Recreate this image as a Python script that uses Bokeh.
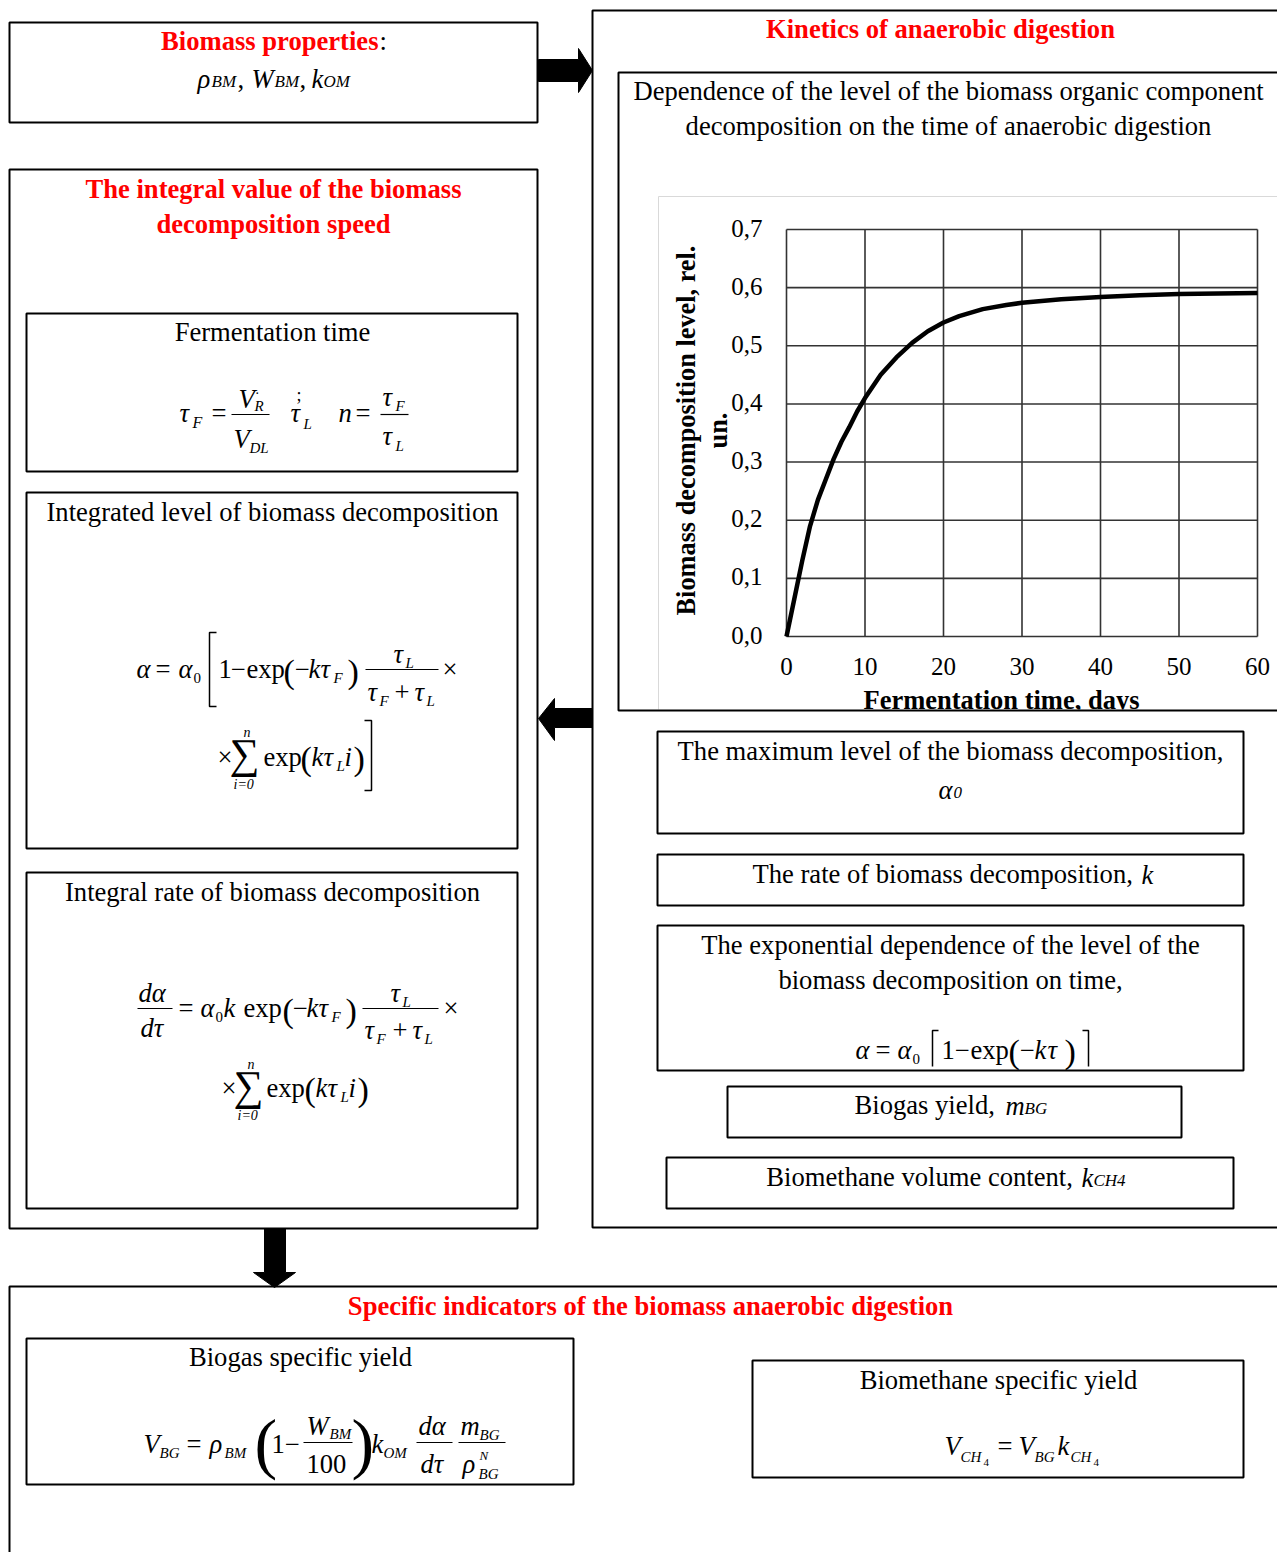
import math
from bokeh.plotting import figure
from bokeh.models import Range1d
from bokeh.core.properties import value
from bokeh.embed import file_html
from bokeh.resources import INLINE

# ---------------- data of the kinetics chart ----------------
days = [0, 1, 2, 3, 4, 5, 6, 7, 8, 9, 10, 12, 14, 16, 18, 20, 22, 25, 28, 30, 35, 40, 45, 50, 55, 60]
level = [0.0, 0.065, 0.13, 0.19, 0.235, 0.27, 0.305, 0.335, 0.36, 0.387, 0.41, 0.45, 0.48, 0.505,
         0.525, 0.54, 0.551, 0.563, 0.57, 0.574, 0.58, 0.584, 0.587, 0.589, 0.59, 0.591]
x_ticks = [0, 10, 20, 30, 40, 50, 60]
x_tick_labels = ["0", "10", "20", "30", "40", "50", "60"]
y_ticks = [0.0, 0.1, 0.2, 0.3, 0.4, 0.5, 0.6, 0.7]
y_tick_labels = ["0,0", "0,1", "0,2", "0,3", "0,4", "0,5", "0,6", "0,7"]
x_title = "Fermentation time, days"
y_title_lines = ["Biomass decomposition level, rel.", "un."]

# ---------------- canvas ----------------
W, H = 1277, 1552
FONT = "Liberation Serif"
FS = 26.6
p = figure(width=W, height=H, x_range=Range1d(0, W), y_range=Range1d(H, 0),
           output_backend="svg", toolbar_location=None, x_axis_type=None, y_axis_type=None,
           min_border=0, outline_line_color=None)
p.xgrid.visible = False
p.ygrid.visible = False

# chart plot area placement (page px)
PX0, PX1 = 786, 1257
PY0, PY1 = 636, 229
ex = (x_ticks[-1] - x_ticks[0]) * W / (PX1 - PX0)
sx = x_ticks[0] - PX0 * ex / W
ey = (y_ticks[-1] - y_ticks[0]) * H / (PY0 - PY1)
sy = y_ticks[0] - (H - PY0) * ey / H
p.extra_x_ranges = {"chart": Range1d(sx, sx + ex)}
p.extra_y_ranges = {"chart": Range1d(sy, sy + ey)}


def txt(x, y, s, size=FS, style="normal", color="black", align="center", baseline="middle", angle=0.0):
    if baseline == "middle" and angle == 0.0:
        y = y - 1.5
    p.text(x=[x], y=[y], text=[s], text_font=value(FONT), text_font_size=f"{size}px",
           text_font_style=style, text_color=color, text_align=align, text_baseline=baseline,
           angle=angle)


def m(x, y, s, size=FS, it=True):
    # y is the typographic baseline
    txt(x, y - 0.28 * size, s, size, "italic" if it else "normal", align="left", baseline="alphabetic")


def mc(x, y, s, size, it=False):
    # y is the vertical centre
    txt(x, y, s, size, "italic" if it else "normal", align="left", baseline="middle")


def ln(xs, ys, w=1.5):
    p.line(xs, ys, line_color="black", line_width=w)


def box(l, r, t, b, w=2):
    p.quad(left=l, right=r, top=t, bottom=b, fill_color=None, line_color="black", line_width=w)


# ---------------- chart ----------------
p.quad(left=658, right=1300, top=196, bottom=710, fill_color=None, line_color="#d9d9d9", line_width=1)
p.segment(x0=x_ticks, y0=[y_ticks[0]] * len(x_ticks), x1=x_ticks, y1=[y_ticks[-1]] * len(x_ticks),
          line_color="#333333", line_width=1.6, x_range_name="chart", y_range_name="chart")
p.segment(x0=[x_ticks[0]] * len(y_ticks), y0=y_ticks, x1=[x_ticks[-1]] * len(y_ticks), y1=y_ticks,
          line_color="#333333", line_width=1.6, x_range_name="chart", y_range_name="chart")
p.line(days, level, line_color="black", line_width=4.5, line_join="round",
       x_range_name="chart", y_range_name="chart")
p.text(x=[x_ticks[0]] * len(y_ticks), y=y_ticks, text=y_tick_labels, x_offset=-24, y_offset=-1.5,
       text_font=value(FONT), text_font_size="25px", text_align="right", text_baseline="middle",
       x_range_name="chart", y_range_name="chart")
p.text(x=x_ticks, y=[y_ticks[0]] * len(x_ticks), text=x_tick_labels, y_offset=30,
       text_font=value(FONT), text_font_size="25px", text_align="center", text_baseline="middle",
       x_range_name="chart", y_range_name="chart")
txt(686, 430, y_title_lines[0], 26.3, "bold", angle=math.pi / 2)
txt(718, 430, y_title_lines[1], 26.3, "bold", angle=math.pi / 2)
txt(1001, 701, x_title, 26.5, "bold")
# the x title is cut by the frame of the box
p.quad(left=620, right=1300, top=709, bottom=728, fill_color="white", line_color=None)

# ---------------- frames ----------------
box(9, 537, 22, 122)
box(592, 1300, 10, 1227)
box(618, 1300, 72, 710)
box(9, 537, 169, 1228)
box(26, 517, 313, 471)
box(26, 517, 492, 848)
box(26, 517, 872, 1208)
box(657, 1243, 731, 833)
box(657, 1243, 854, 905)
box(657, 1243, 925, 1070)
box(727, 1181, 1086, 1137)
box(666, 1233, 1157, 1208)
box(9, 1300, 1286, 1600)
box(26, 573, 1338, 1484)
box(752, 1243, 1360, 1477)

# ---------------- arrows ----------------
p.patch([538, 578, 578, 592, 578, 578, 538], [59, 59, 48, 70, 92, 81, 81], color="black")
p.patch([592, 554, 554, 538, 554, 554, 592], [708, 708, 698, 718, 740, 727, 727], color="black")
p.patch([264, 285, 285, 295, 274, 253, 264], [1228, 1228, 1272, 1272, 1287, 1272, 1272], color="black")

# ---------------- texts ----------------
RED = "#ff0000"
txt(378, 42, "Biomass properties", FS, "bold", RED, align="right")
txt(379, 42, ":", FS, "normal", align="left")
m(197, 86, "ρ"); m(211, 86, "BM", 17); m(237, 86, ",", FS, False)
m(251, 86, "W"); m(274, 86, "BM", 17); m(299, 86, ",", FS, False)
m(311, 86, "k"); m(323, 86, "OM", 17)

txt(940, 30, "Kinetics of anaerobic digestion", FS, "bold", RED)
txt(948, 92, "Dependence of the level of the biomass organic component")
txt(948, 127, "decomposition on the time of anaerobic digestion")

txt(273, 190, "The integral value of the biomass", FS, "bold", RED)
txt(273, 225, "decomposition speed", FS, "bold", RED)
txt(272, 333, "Fermentation time")
txt(272, 513, "Integrated level of biomass decomposition")
txt(272, 893, "Integral rate of biomass decomposition")

txt(950, 752, "The maximum level of the biomass decomposition,")
m(938, 797, "α"); m(953, 797, "0", 17)
txt(1139, 875, "The rate of biomass decomposition, ", align="right")
m(1141, 882, "k")
txt(950, 946, "The exponential dependence of the level of the")
txt(950, 981, "biomass decomposition on time,")
txt(1001, 1106, "Biogas yield, ", align="right")
m(1005, 1113, "m"); m(1024, 1113, "BG", 17)
txt(1079, 1178, "Biomethane volume content, ", align="right")
m(1081, 1185, "k"); m(1093, 1185, "CH4", 17)

txt(650, 1307, "Specific indicators of the biomass anaerobic digestion", FS, "bold", RED)
txt(300, 1358, "Biogas specific yield")
txt(998, 1381, "Biomethane specific yield")

# ---------------- formula: fermentation time ----------------
m(179, 420, "τ"); m(192, 426, "F", 16)
m(211, 420, "=", FS, False)
ln([231, 269], [414, 414], 1.2)
m(238, 406, "V"); m(254, 410, "R", 15); m(255, 392, ".", 14, False)
m(233, 446, "V"); m(249, 452, "DL", 15)
m(296, 400, ";", 18, False)
m(290, 420, "τ"); m(303, 428, "L", 15)
m(338, 420, "n")
m(355, 420, "=", FS, False)
ln([380, 408], [414, 414], 1.2)
m(382, 404, "τ"); m(395, 410, "F", 15)
m(382, 443, "τ"); m(395, 450, "L", 15)

# ---------------- formula: integrated level ----------------
B1 = 676
m(136, B1, "α"); m(155, B1, "=", FS, False)
m(178, B1, "α"); m(193, B1 + 6, "0", 15, False)
ln([216, 209, 209, 216], [632, 632, 706, 706])
m(218, B1, "1", FS, False); m(230, B1, "−", FS, False); m(246, B1, "exp", FS, False)
mc(283, 672, "(", 34); m(294, B1, "−", FS, False); m(308, B1, "k"); m(320, B1, "τ")
m(333, B1 + 6, "F", 15); mc(347, 672, ")", 34)
ln([365, 438], [669, 669], 1.2)
m(393, 661, "τ"); m(405, 667, "L", 15)
m(367, 699, "τ"); m(379, 705, "F", 15); m(394, 699, "+", FS, False); m(414, 699, "τ"); m(426, 705, "L", 15)
m(442, B1, "×", FS, False)
B2 = 764
m(217, B2, "×", FS, False); mc(229, 755, "∑", 42)
m(243, 736, "n", 14); m(233, 788, "i=0", 14)
m(263, B2, "exp", FS, False); mc(300, 759, "(", 34); m(311, B2, "k"); m(323, B2, "τ")
m(336, B2 + 6, "L", 15); m(344, B2, "i"); mc(353, 759, ")", 34)
ln([364, 371, 371, 364], [720, 720, 790, 790])

# ---------------- formula: integral rate ----------------
C1 = 1015
m(138, 1000, "dα"); ln([137, 172], [1008, 1008], 1.2); m(140, 1035, "dτ")
m(178, C1, "=", FS, False)
m(200, C1, "α"); m(215, C1 + 6, "0", 15, False); m(223, C1, "k")
m(243, C1, "exp", FS, False)
mc(282, 1011, "(", 34); m(292, C1, "−", FS, False); m(306, C1, "k"); m(318, C1, "τ")
m(331, C1 + 6, "F", 15); mc(345, 1011, ")", 34)
ln([362, 438], [1008, 1008], 1.2)
m(390, 1000, "τ"); m(402, 1006, "L", 15)
m(364, 1037, "τ"); m(376, 1043, "F", 15); m(392, 1037, "+", FS, False); m(412, 1037, "τ"); m(424, 1043, "L", 15)
m(443, C1, "×", FS, False)
C2 = 1095
m(221, C2, "×", FS, False); mc(233, 1087, "∑", 42)
m(247, 1068, "n", 14); m(237, 1119, "i=0", 14)
m(266, C2, "exp", FS, False); mc(304, 1090, "(", 34); m(315, C2, "k"); m(327, C2, "τ")
m(340, C2 + 6, "L", 15); m(348, C2, "i"); mc(357, 1090, ")", 34)

# ---------------- formula: exponential dependence ----------------
E = 1057
m(855, E, "α"); m(875, E, "=", FS, False); m(897, E, "α"); m(912, E + 6, "0", 15, False)
ln([938, 932, 932], [1030, 1030, 1066])
m(941, E, "1", FS, False); m(954, E, "−", FS, False); m(970, E, "exp", FS, False)
mc(1008, 1052, "(", 34); m(1019, E, "−", FS, False); m(1034, E, "k"); m(1047, E, "τ")
mc(1064, 1052, ")", 34)
ln([1082, 1088, 1088], [1030, 1030, 1066])

# ---------------- formula: biogas specific yield ----------------
G = 1451
m(143, G, "V"); m(159, G + 6, "BG", 15)
m(186, G, "=", FS, False)
m(209, G, "ρ"); m(224, G + 6, "BM", 15)
mc(254, 1444, "(", 68)
m(271, G, "1", FS, False); m(284, G, "−", FS, False)
ln([303, 352], [1442, 1442], 1.2)
m(306, 1433, "W"); m(329, 1438, "BM", 15)
m(306, 1471, "100", FS, False)
mc(351, 1444, ")", 68)
m(371, G, "k"); m(383, G + 6, "OM", 15)
m(418, 1433, "dα"); ln([416, 452], [1442, 1442], 1.2); m(420, 1471, "dτ")
m(460, 1433, "m"); m(479, 1439, "BG", 15)
ln([458, 505], [1442, 1442], 1.2)
m(462, 1471, "ρ"); m(479, 1459, "N", 13); m(478, 1478, "BG", 15)

# ---------------- formula: biomethane specific yield ----------------
K = 1453
m(944, K, "V"); m(960, K + 8, "CH", 15); m(983, K + 12, "4", 11, False)
m(997, K, "=", FS, False)
m(1018, K, "V"); m(1034, K + 8, "BG", 15)
m(1057, K, "k"); m(1070, K + 8, "CH", 15); m(1093, K + 12, "4", 11, False)

open("out.html", "w").write(file_html(p, INLINE))
